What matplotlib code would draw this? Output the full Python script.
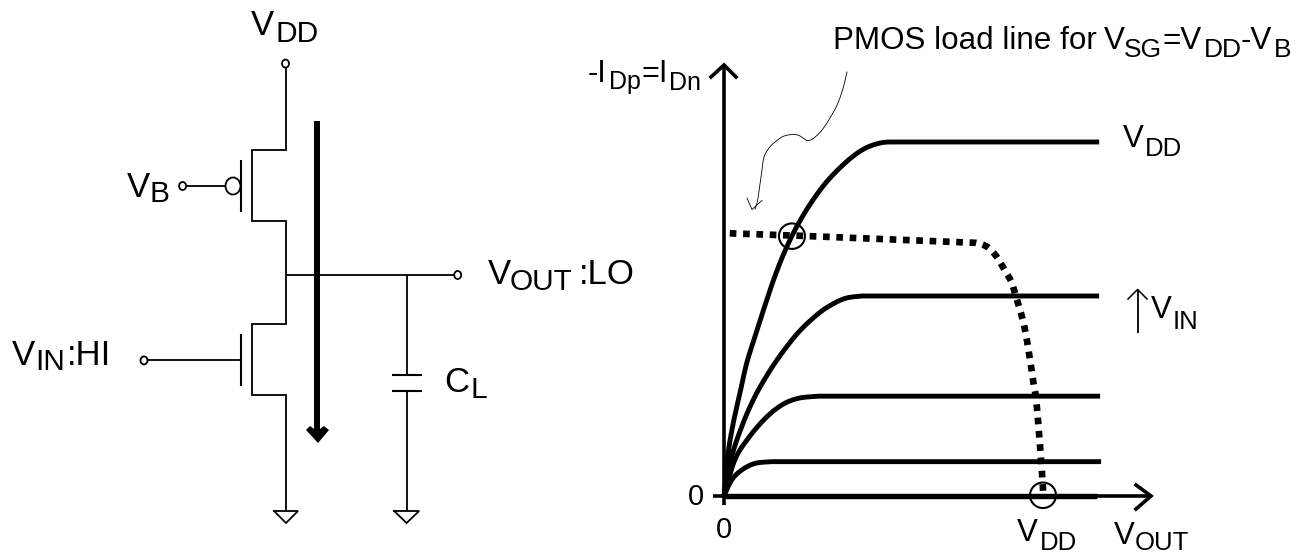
import matplotlib
matplotlib.use("Agg")
import matplotlib.pyplot as plt
from matplotlib.patches import Ellipse
import numpy as np

plt.rcParams['font.family'] = ['Liberation Sans', 'DejaVu Sans']

# ---- I-V chart data (V_OUT normalised to V_DD, current normalised to top curve)
top_x = [0, .013, .029, .050, .071, .097, .129, .160, .191, .228, .275, .327, .390, .442, .494, .536, 1.176]
top_y = [0, .121, .206, .291, .375, .450, .540, .622, .692, .761, .831, .893, .949, .982, .998, 1, 1]
second_x = [0, .024, .060, .097, .139, .181, .233, .285, .327, .379, .432, 1.176]
second_y = [0, .111, .206, .281, .347, .403, .462, .507, .535, .558, .565, .565]
third_x = [0, .034, .076, .129, .181, .233, .296, 1.179]
third_y = [0, .102, .163, .219, .257, .276, .282, .282]
fourth_x = [0, .024, .055, .097, .150, 1.182]
fourth_y = [0, .045, .073, .092, .097, .097]
zero_x = [0, 1.169]
zero_y = [0, 0]
load_x = [.018, .213, .400, .600, .760, .796, .828, .854, .874, .900, .912, .932, .945, .958, .971, .978, .988, .997, 1.001]
load_y = [.742, .736, .729, .722, .716, .714, .702, .677, .647, .607, .573, .513, .463, .393, .313, .278, .173, .064, .004]
op_x = [.213, 1.0]
op_y = [.734, .002]

W, H = 1299, 554
fig = plt.figure(figsize=(W / 100, H / 100), dpi=100, facecolor='white')

ax = fig.add_axes([0, 0, 1, 1])
ax.set_xlim(0, W)
ax.set_ylim(H, 0)
ax.axis('off')

X0, Y0, SX, SY = 724, 496, 319, 354
cx = fig.add_axes([0, 0, 1, 1], facecolor='none')
cx.set_xlim((0 - X0) / SX, (W - X0) / SX)
cx.set_ylim((Y0 - H) / SY, Y0 / SY)
cx.axis('off')

TH = 1.3


def smooth(xs, ys, straight_end=True, n=12):
    px, py = np.asarray(xs, float), np.asarray(ys, float)
    tail_x, tail_y = [], []
    if straight_end:
        tail_x, tail_y = [px[-1]], [py[-1]]
        px, py = px[:-1], py[:-1]
    P = np.column_stack([px, py])
    P = np.vstack([P[0], P, P[-1]])
    out = []
    for i in range(1, len(P) - 2):
        t = np.linspace(0, 1, n, endpoint=False)[:, None]
        a, b, c, d = P[i - 1], P[i], P[i + 1], P[i + 2]
        out.append(0.5 * (2 * b + (c - a) * t + (2 * a - 5 * b + 4 * c - d) * t ** 2
                          + (3 * b - a - 3 * c + d) * t ** 3))
    out = np.vstack(out + [P[-1][None, :]])
    return np.r_[out[:, 0], tail_x], np.r_[out[:, 1], tail_y]


def wire(xs, ys, lw=TH):
    ax.plot(xs, ys, color='black', lw=lw, solid_capstyle='butt', solid_joinstyle='miter')


def node(x, y):
    ax.add_patch(Ellipse((x, y), 7, 8, fc='white', ec='black', lw=TH, zorder=5))


def ground(x, half):
    ax.plot([x - half, x + half, x, x - half], [511, 511, 523, 511], color='black', lw=TH,
            solid_joinstyle='miter')


def label(x, y, s, size):
    ax.text(x, y, s, ha='left', va='baseline', color='black', fontsize=size)


# transistors and wires
wire([286, 286, 252, 252, 286, 286, 252, 252, 286, 286],
     [67, 149.5, 149.5, 221, 221, 324, 324, 395, 395, 511])
wire([240.7, 240.7], [160, 212], 1.5)
wire([240.7, 240.7], [334, 386], 1.5)
wire([186, 226], [186, 186])
ax.add_patch(Ellipse((233, 186), 15, 17, fc='white', ec='black', lw=TH))
wire([147, 240.7], [360.4, 360.4])
wire([286, 454], [275, 275])
wire([406.6, 406.6], [275, 375])
wire([392, 422], [375, 375], 1.5)
wire([392, 422], [391, 391], 1.5)
wire([406.6, 406.6], [391, 511])
node(285.5, 63.6)
node(182.6, 186)
node(144, 360.4)
node(457.7, 275)
ground(286, 12)
ground(406.6, 12.5)

# thick current arrow
ax.plot([317, 317], [121, 434], color='black', lw=4.3, solid_capstyle='butt')
ax.fill([306, 310, 317, 324, 329, 318], [430, 426, 431, 426, 430, 443], color='black', lw=0)

# schematic labels
MAIN, SUB = 25, 21.5
label(251, 35.3, 'V', MAIN); label(276, 41.7, 'DD', SUB)
label(126.5, 197, 'V', MAIN); label(150, 202, 'B', SUB)
label(487.5, 284.5, 'V', MAIN); label(510, 290.5, 'OUT', SUB); label(579, 284.5, ':LO', MAIN)
label(11.6, 364.7, 'V', MAIN); label(35, 370, 'IN', SUB); label(66.4, 364.7, ':HI', MAIN)
label(444, 391.5, 'C', MAIN); label(471, 397.5, 'L', SUB)

# chart axes lines
cx_lw = 2.6
cx.plot([(713 - X0) / SX, (1150 - X0) / SX], [0, 0], color='black', lw=cx_lw, solid_capstyle='butt')
cx.plot([0, 0], [(Y0 - 505) / SY, (Y0 - 66) / SY], color='black', lw=cx_lw, solid_capstyle='butt')
ax.plot([711, 724, 736], [77, 65, 77], color='black', lw=cx_lw, solid_joinstyle='miter')
ax.plot([1136, 1151, 1136], [485, 496, 509], color='black', lw=cx_lw, solid_joinstyle='miter')

# transfer curves
for xs, ys in [(top_x, top_y), (second_x, second_y), (third_x, third_y), (fourth_x, fourth_y)]:
    sx, sy = smooth(xs, ys)
    cx.plot(sx, sy, color='black', lw=3.5, solid_capstyle='butt')
cx.plot(zero_x, zero_y, color='black', lw=3.9, solid_capstyle='butt')

# PMOS load line
lx, ly = smooth(load_x, load_y, straight_end=False)
cx.plot(lx, ly, color='black', lw=4.8, dashes=(1, 1), dash_capstyle='butt')

# operating points
for ox, oy in zip(op_x, op_y):
    cx.add_patch(Ellipse((ox, oy), 26 / SX, 25.5 / SY, fc='none', ec='black', lw=1.5, zorder=6))

# curved annotation arrow
cvx, cvy = smooth([847, 844, 838, 830, 822, 814, 809, 806, 800, 795, 788, 782, 775, 769, 764, 762, 760, 758.5, 757, 755],
                  [72, 85, 103, 118, 130, 138, 140.5, 140, 136, 134.5, 135, 137, 142, 148, 157, 170, 185, 195, 203, 209],
                  straight_end=False)
ax.plot(cvx, cvy, color='black', lw=0.6)
ax.plot([747, 752, 762], [198, 209.5, 200.5], color='black', lw=0.6)

# small V_IN arrow
ax.plot([1137.6, 1137.6], [333, 290], color='black', lw=1.3, solid_capstyle='butt')
ax.plot([1128, 1137.6, 1147], [299, 289.5, 299], color='black', lw=1.1)

# chart labels
label(588, 82, '-I', 22); label(609, 88.5, 'Dp', 18); label(641.5, 82, '=I', 22); label(669.5, 90, 'Dn', 18)
label(688, 504.6, '0', 21); label(716, 538, '0', 21)
CM, CS = 22.5, 18.5
label(1017, 541, 'V', CM); label(1040, 549.5, 'DD', CS)
label(1114, 544, 'V', CM); label(1134.6, 550.5, 'OUT', CS)
label(1123, 146.6, 'V', CM); label(1144.6, 156, 'DD', CS)
label(1151, 318, 'V', CM); label(1173, 328.6, 'IN', CS)
PM, PS = 22.6, 19
label(832.6, 48.8, 'PMOS load line for', PM)
label(1104, 48.8, 'V', PM); label(1124, 57, 'SG', PS)
label(1163, 48.8, '=V', PM); label(1204, 57, 'DD', PS)
label(1241, 48.8, '-V', PM); label(1273.6, 57, 'B', PS)

fig.savefig('out.png', dpi=100, facecolor='white')
